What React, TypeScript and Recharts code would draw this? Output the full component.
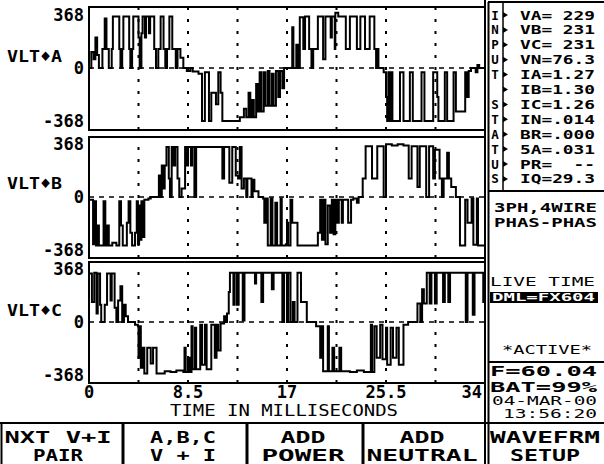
import { LineChart, Line, XAxis, YAxis, ReferenceLine, ReferenceArea } from "recharts";

type Pt = [number, number];

// [time ms, volts] step points
const phaseA: Pt[] = [
  [0, 0], [0.2, 110], [0.4, 60], [0.55, 210], [0.7, 90], [0.85, 0], [1.15, 130], [1.35, 340], [1.5, 130], [1.7, 0],
  [1.95, 130], [2.05, 355], [2.6, 130], [2.7, 0], [2.85, 130], [2.95, 355], [3.45, 130], [3.55, 0], [3.7, 130], [3.8, 355],
  [4.25, 210], [4.35, 0], [4.5, 240], [4.6, 355], [4.8, 210], [4.9, 355], [5.15, 240], [5.25, 355], [5.6, 130], [5.75, 0],
  [5.95, 130], [6.15, 355], [6.4, 130], [6.55, 0], [6.7, 130], [6.9, 355], [7.15, 130], [7.45, 0], [7.6, 130], [7.85, 70],
  [8.1, 0], [8.4, -20], [8.7, 0], [8.9, -25], [9.4, -40], [9.7, -365], [9.95, -30], [10.3, -365], [10.5, -170], [10.9, -250],
  [11.1, -30], [11.3, -170], [11.45, -365], [12.95, -340], [13.3, -280], [13.5, -340], [13.7, -170], [13.85, -340], [14.0, -220], [14.15, -340],
  [14.35, -110], [14.5, -300], [14.65, -30], [14.8, -300], [15.0, -30], [15.15, -260], [15.35, -20], [15.5, -260], [15.7, -40], [15.85, -260],
  [16.05, -20], [16.25, -200], [16.4, -20], [16.6, -140], [16.75, 0], [17.4, 0], [17.45, 280], [17.55, 0], [17.8, 160], [17.95, 0],
  [18.1, 350], [18.4, 130], [18.55, 355], [18.9, 130], [19.1, 0], [19.25, 130], [19.65, 355], [20.1, 60], [20.3, 355], [20.75, 210],
  [20.85, 355], [21.1, 130], [21.15, 380], [21.4, 355], [22.05, 130], [22.4, 355], [23.0, 130], [23.3, 355], [23.7, 130], [24.1, 355],
  [24.5, 130], [24.65, 0], [24.75, 130], [24.85, 0], [25.3, -30], [25.5, -200], [25.6, -365], [25.7, -30], [25.85, -365], [25.95, -30],
  [26.05, -365], [26.7, -30], [27.0, -365], [27.55, -30], [27.8, -365], [28.55, -30], [28.8, -365], [29.55, -30], [29.9, -200], [30.0, -365],
  [30.55, -30], [30.75, -365], [31.3, -30], [31.5, -300], [32.3, -30], [32.45, -200], [32.6, -20], [32.8, 0], [33.2, -30], [33.35, 20],
  [33.5, 0], [34, 0],
];

const phaseB: Pt[] = [
  [0, -20], [0.35, -330], [0.5, -30], [0.6, -340], [0.75, -200], [0.85, -340], [1.25, -30], [1.4, -340], [1.55, -200], [1.7, -340],
  [2.0, -320], [2.35, -340], [2.6, -30], [2.75, -200], [2.9, -340], [3.25, -180], [3.4, -30], [3.55, -250], [3.7, -340], [3.95, -250],
  [4.1, -30], [4.2, -330], [4.3, -60], [4.4, -300], [4.5, -30], [4.6, -280], [4.75, -20], [5.1, -10], [5.3, 0], [5.9, 0],
  [6.0, 150], [6.1, 0], [6.25, 220], [6.35, 60], [6.5, 220], [6.65, 350], [6.85, 130], [6.95, 0], [7.1, 350], [7.25, 220],
  [7.4, 350], [7.6, 130], [7.75, 0], [7.95, 60], [8.25, 350], [8.4, 220], [8.5, 350], [8.75, 220], [8.85, 350], [9.05, 0],
  [9.2, 350], [11.3, 350], [11.45, 130], [11.6, 350], [12.05, 100], [12.3, 350], [12.6, 150], [12.8, 130], [12.95, 350], [13.1, 60],
  [13.3, 130], [13.5, 0], [13.6, 130], [13.95, 0], [14.05, 120], [14.2, 40], [14.55, 0], [14.95, -10], [15.05, -180], [15.2, -10],
  [15.35, -340], [15.6, -10], [15.75, -340], [16.0, -40], [16.15, -340], [16.45, -10], [16.55, -340], [16.9, -330], [17.0, -180], [17.1, -340],
  [17.3, -20], [17.45, -180], [17.9, -340], [19.65, -250], [19.85, -20], [20.0, -300], [20.15, -20], [20.3, -330], [20.5, -60], [20.7, -250],
  [20.85, -20], [21.0, -260], [21.15, -20], [21.3, -180], [21.45, -20], [21.7, -180], [21.8, -20], [22.25, -180], [22.5, -20], [22.7, -10],
  [23.0, -40], [23.15, 0], [23.5, 130], [23.75, 355], [24.3, 130], [24.75, 355], [25.3, 0], [25.5, 370], [26.0, 360], [26.5, 370],
  [27.0, 360], [27.45, 130], [27.7, 355], [28.2, 70], [28.4, 355], [28.95, 0], [29.2, 355], [29.55, 130], [29.7, 330], [30.1, 130],
  [30.3, 0], [30.45, 130], [30.75, 310], [30.9, 130], [31.1, 70], [31.5, 0], [31.85, -340], [32.3, -20], [32.5, -180], [32.85, -10],
  [33.0, -335], [33.3, -10], [33.4, -340], [34, -340],
];

const phaseC: Pt[] = [
  [0, 340], [0.25, 140], [0.45, 345], [0.65, 60], [0.75, 340], [0.95, 120], [1.05, 0], [1.25, 0], [1.35, 120], [1.55, 340],
  [1.85, 150], [1.95, 340], [2.2, 100], [2.35, 0], [2.5, 150], [2.7, 250], [2.85, 0], [3.0, 120], [3.15, 40], [3.35, 0],
  [3.95, -20], [4.2, -30], [4.25, -250], [4.35, -30], [4.45, -320], [4.6, -180], [4.75, -360], [5.0, -180], [5.3, -290], [5.5, -180],
  [5.8, -360], [6.5, -345], [7.0, -350], [7.5, -340], [8.1, -350], [8.2, -180], [8.3, -350], [8.5, -250], [8.65, -350], [8.8, -30],
  [8.9, -330], [9.1, -40], [9.2, -330], [9.55, -20], [9.7, -300], [9.95, -20], [10.1, -330], [10.5, -20], [10.8, -250], [10.95, -20],
  [11.1, -200], [11.3, -10], [11.6, 40], [11.7, 0], [11.85, 60], [12.0, 210], [12.1, 345], [12.4, 120], [12.5, 345], [12.7, 120],
  [12.85, 345], [13.2, 10], [13.35, 345], [14.25, 270], [14.35, 345], [14.8, 140], [14.95, 345], [15.7, 230], [15.85, 345], [16.6, 0],
  [16.75, 345], [17.0, 0], [17.1, 345], [17.3, 0], [17.5, 140], [17.65, 0], [17.9, 345], [18.2, 140], [18.7, 0], [19.5, -30],
  [19.85, -250], [20.0, -30], [20.1, -345], [20.5, -30], [20.6, -345], [20.9, -180], [21.05, -345], [21.5, -180], [21.65, -345], [22.4, -350],
  [23.0, -340], [23.6, -350], [24.2, -20], [24.3, -350], [24.5, -30], [24.7, -250], [25.0, -20], [25.2, -260], [25.5, -40], [25.6, -300],
  [25.9, -40], [26.1, -250], [26.4, -40], [26.6, -300], [27.0, -20], [27.4, 0], [28.0, 0], [28.2, 130], [28.45, 0], [28.6, 230],
  [28.75, 130], [29.0, 345], [29.25, 130], [29.4, 345], [29.7, 130], [29.85, 345], [30.4, 140], [30.55, 345], [30.85, 140], [31.0, 345],
  [32.35, 0], [32.5, 345], [32.95, 50], [33.1, 345], [33.85, 140], [33.95, 345], [34, 345],
];

const yTicks = [-368, 0, 368];
const timeTicks = [0, 8.5, 17, 25.5, 34];
const gridTimes = [4.25, 8.5, 12.75, 17, 21.25, 25.5, 29.75];

const statusLetters = ["I", "N", "P", "U", "T", "", "S", "T", "A", "T", "U", "S"];
const statusValues = ["VA= 229", "VB= 231", "VC= 231", "VN=76.3", "IA=1.27", "IB=1.30", "IC=1.26", "IN=.014", "BR=.000", "5A=.031", "PR=  --", "IQ=29.3"];
const buttonTop = ["NXT V+I", "A,B,C", "ADD", "ADD", "WAVEFRM"];
const buttonBottom = ["PAIR", "V + I", "POWER", "NEUTRAL", "SETUP"];

const MONO = "'DejaVu Sans Mono', monospace";
const Y_DOMAIN: [number, number] = [-427, 420];
const PAD = 9;
const btnX = [58, 183, 303, 422, 545];
const btnTopLen = [107, 66, 45, 45, 110];
const btnBotLen = [50, 66, 83, 111, 70];

function TimeTick(props: any) {
  const { x, y, payload } = props;
  const last = payload.value === 34;
  return (
    <text x={last ? x - 3 : x} y={y} dy={9} textAnchor={last ? "end" : "middle"} dominantBaseline="central"
      fontFamily={MONO} fontSize={17} fontWeight="bold" fill="#000">
      {payload.value}
    </text>
  );
}

function Panel({ data, top, height, showTime }: { data: Pt[]; top: number; height: number; showTime?: boolean }) {
  const rows = data.map(([t, v]) => ({ t, v }));
  return (
    <div style={{ position: "absolute", left: 0, top: top - PAD }}>
      <LineChart width={485} height={height + PAD + (showTime ? 30 : PAD)} data={rows}
        margin={{ top: PAD, right: 0, bottom: showTime ? 0 : PAD, left: 0 }}>
        <XAxis type="number" dataKey="t" domain={[0, 34]} ticks={timeTicks} interval={0} hide={!showTime} height={30}
          axisLine={false} tickLine={false} tickSize={0} tickMargin={0} tick={(p: any) => <TimeTick {...p} />} />
        <YAxis type="number" domain={Y_DOMAIN} ticks={yTicks} interval={0} width={89} allowDataOverflow
          axisLine={false} tickLine={false} tickSize={3} tickMargin={2}
          tick={{ fill: "#000", fontSize: 17, fontFamily: MONO, fontWeight: "bold" }} />
        {gridTimes.map((t) => (
          <ReferenceLine key={t} x={t} stroke="#000" strokeWidth={2} strokeDasharray="3 9" />
        ))}
        <ReferenceLine y={0} stroke="#000" strokeWidth={1.5} strokeDasharray="5 5" />
        <ReferenceArea x1={0} x2={34} y1={Y_DOMAIN[0]} y2={Y_DOMAIN[1]} fill="none" stroke="#000" strokeWidth={2} />
        <Line type="stepAfter" dataKey="v" stroke="#000" strokeWidth={2} dot={false} isAnimationActive={false} />
      </LineChart>
    </div>
  );
}

export default function App() {
  const txt = { fontFamily: MONO, fill: "#000", dominantBaseline: "central" as const };
  const rowY = statusValues.map((_, i) => 15 + i * 14.9);
  return (
    <div style={{ position: "absolute", left: 0, top: 0, width: 604, height: 464, background: "#fff", overflow: "hidden" }}>
      <Panel data={phaseA} top={7} height={123} />
      <Panel data={phaseB} top={137} height={121} />
      <Panel data={phaseC} top={262} height={121} showTime />
      <svg width={604} height={464} style={{ position: "absolute", left: 0, top: 0, pointerEvents: "none" }}>
        {/* channel labels */}
        <text {...txt} x={7} y={56} fontSize={16} fontWeight="bold" textLength={55} lengthAdjust="spacingAndGlyphs">VLT♦A</text>
        <text {...txt} x={7} y={183} fontSize={16} fontWeight="bold" textLength={55} lengthAdjust="spacingAndGlyphs">VLT♦B</text>
        <text {...txt} x={7} y={310} fontSize={16} fontWeight="bold" textLength={55} lengthAdjust="spacingAndGlyphs">VLT♦C</text>
        <text {...txt} x={170} y={411} fontSize={15} textLength={228} lengthAdjust="spacingAndGlyphs">TIME IN MILLISECONDS</text>

        {/* right status panel */}
        <line x1={485} y1={0} x2={485} y2={464} stroke="#000" strokeWidth={2} />
        <line x1={488.5} y1={2} x2={488.5} y2={464} stroke="#000" strokeWidth={2} />
        <line x1={488} y1={2} x2={604} y2={2} stroke="#000" strokeWidth={2} />
        <line x1={503} y1={2} x2={503} y2={191} stroke="#000" strokeWidth={1.5} />
        <line x1={488} y1={191} x2={604} y2={191} stroke="#000" strokeWidth={2} />
        {statusLetters.map((c, i) => (
          <text key={"l" + i} {...txt} x={495} y={rowY[i]} fontSize={12.5} fontWeight="bold" textAnchor="middle">{c}</text>
        ))}
        {statusValues.map((s, i) => (
          <g key={"v" + i}>
            <polygon points={`503,${rowY[i] - 3} 508,${rowY[i]} 503,${rowY[i] + 3}`} fill="#000" />
            <text {...txt} x={520} y={rowY[i]} fontSize={12.5} fontWeight="bold" textLength={75} lengthAdjust="spacingAndGlyphs" style={{ whiteSpace: "pre" }}>{s}</text>
          </g>
        ))}
        <text {...txt} x={494} y={207} fontSize={13} fontWeight="bold" textLength={103} lengthAdjust="spacingAndGlyphs">3PH,4WIRE</text>
        <text {...txt} x={494} y={222} fontSize={13} fontWeight="bold" textLength={103} lengthAdjust="spacingAndGlyphs">PHAS-PHAS</text>
        <text {...txt} x={490} y={281} fontSize={13} textLength={105} lengthAdjust="spacingAndGlyphs">LIVE TIME</text>
        <rect x={490} y={292} width={108} height={11} fill="#000" />
        <text {...txt} x={492} y={297.5} fontSize={10} fontWeight="bold" fill="#fff" textLength={103} lengthAdjust="spacingAndGlyphs">DML=FX604</text>
        <text {...txt} x={502} y={349} fontSize={13} textLength={90} lengthAdjust="spacingAndGlyphs">*ACTIVE*</text>
        <line x1={488} y1={362} x2={604} y2={362} stroke="#000" strokeWidth={2} />
        <text {...txt} x={490} y={371} fontSize={13.5} fontWeight="bold" textLength={107} lengthAdjust="spacingAndGlyphs">F=60.04</text>
        <text {...txt} x={490} y={387} fontSize={13.5} fontWeight="bold" textLength={107} lengthAdjust="spacingAndGlyphs">BAT=99%</text>
        <text {...txt} x={492} y={401} fontSize={12} textLength={105} lengthAdjust="spacingAndGlyphs">04-MAR-00</text>
        <text {...txt} x={503} y={414} fontSize={12} textLength={94} lengthAdjust="spacingAndGlyphs">13:56:20</text>

        {/* soft-key row */}
        <line x1={0} y1={423} x2={604} y2={423} stroke="#000" strokeWidth={2} />
        <line x1={1.5} y1={423} x2={1.5} y2={464} stroke="#000" strokeWidth={2} />
        {[123, 247, 363].map((x) => (
          <line key={x} x1={x} y1={423} x2={x} y2={464} stroke="#000" strokeWidth={3} />
        ))}
        {buttonTop.map((s, i) => (
          <text key={"bt" + i} {...txt} x={btnX[i]} y={437} fontSize={16} fontWeight="bold" textAnchor="middle"
            textLength={btnTopLen[i]} lengthAdjust="spacingAndGlyphs">{s}</text>
        ))}
        {buttonBottom.map((s, i) => (
          <text key={"bb" + i} {...txt} x={btnX[i]} y={455} fontSize={16} fontWeight="bold" textAnchor="middle"
            textLength={btnBotLen[i]} lengthAdjust="spacingAndGlyphs">{s}</text>
        ))}
      </svg>
    </div>
  );
}
